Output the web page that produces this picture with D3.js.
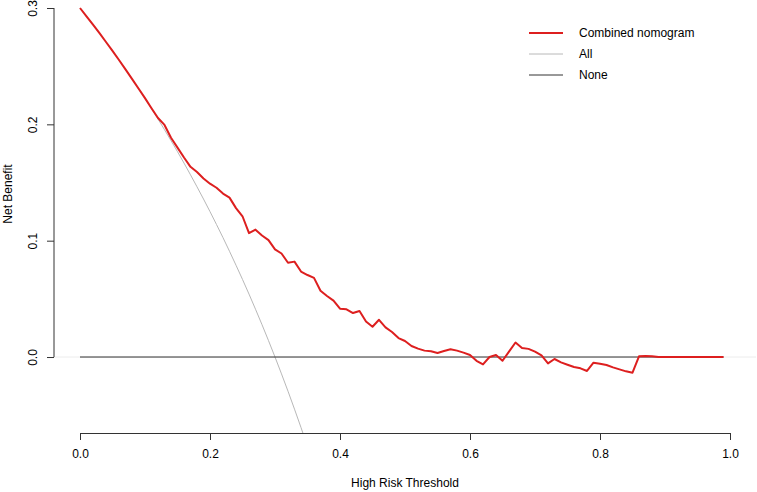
<!DOCTYPE html>
<html>
<head>
<meta charset="utf-8">
<script src="https://cdn.jsdelivr.net/npm/d3@7"></script>
<style>
  body { margin: 0; background: #fff; }
  svg text { font-family: "Liberation Sans", Arial, sans-serif; font-size: 12px; fill: #000; }
</style>
</head>
<body>
<div id="chart"></div>
<script>
// thresholds 0.00 .. 0.99 in steps of 0.01
const thresholds = d3.range(100).map((i) => i / 100);

// net benefit of the combined nomogram
const nomogram = [
  0.300, 0.2929, 0.2857, 0.2784, 0.2708, 0.2632, 0.2553, 0.2473, 0.2391, 0.2308,
  0.2225, 0.2138, 0.2055, 0.1995, 0.1885, 0.1800, 0.1715, 0.1635, 0.159, 0.1535,
  0.149, 0.1455, 0.1405, 0.137, 0.128, 0.121, 0.1065, 0.1095, 0.1045, 0.1005,
  0.0925, 0.089, 0.081, 0.082, 0.0735, 0.0705, 0.068, 0.057, 0.0525, 0.0485,
  0.0415, 0.041, 0.0378, 0.0395, 0.0305, 0.026, 0.032, 0.0255, 0.0215, 0.0163,
  0.0138, 0.0095, 0.0072, 0.0055, 0.0049, 0.0035, 0.0052, 0.0067, 0.0055, 0.0038,
  0.0018, -0.0032, -0.0063, 0.0000, 0.0017, -0.0032, 0.0046, 0.0125, 0.0078, 0.0070,
  0.0046, 0.0014, -0.0055, -0.0017, -0.0046, -0.0066, -0.0086, -0.0097, -0.0120, -0.0049,
  -0.0057, -0.0068, -0.0089, -0.0106, -0.0123, -0.0135, 0.0006, 0.0009, 0.0006, 0.0000,
  0.0000, 0.0000, 0.0000, 0.0000, 0.0000, 0.0000, 0.0000, 0.0000, 0.0000, 0.0000,
];

// "treat all" curve, thresholds 0.00 .. 0.35
const treatAll = [
  0.300, 0.2929, 0.2857, 0.2784, 0.2708, 0.2632, 0.2553, 0.2473, 0.2391, 0.2308,
  0.2222, 0.2135, 0.2045, 0.1954, 0.1860, 0.1765, 0.1667, 0.1566, 0.1463, 0.1358,
  0.1250, 0.1139, 0.1026, 0.0909, 0.0789, 0.0667, 0.0541, 0.0411, 0.0278, 0.0141,
  0.0000, -0.0145, -0.0294, -0.0448, -0.0606, -0.0769,
];

const xTicks = [0, 0.2, 0.4, 0.6, 0.8, 1.0];
const yTicks = [0, 0.1, 0.2, 0.3];

const legendItems = [
  { label: "Combined nomogram", color: "#dd1f1f", width: 2 },
  { label: "All", color: "#b8b8b8", width: 1 },
  { label: "None", color: "#333333", width: 1 },
];

const width = 757;
const height = 492;

const svg = d3.select("#chart").append("svg")
  .attr("width", width)
  .attr("height", height);

const x = d3.scaleLinear().domain([0, 1]).range([80, 730]);
const y = d3.scaleLinear().domain([-0.0653, 0.3]).range([433, 8]);

// plot region (R style, 4% padding on x)
const plotLeft = x(-0.04);
const plotRight = x(1.04);
const plotBottom = y.range()[0];

svg.append("clipPath").attr("id", "plot-clip")
  .append("rect")
  .attr("x", plotLeft)
  .attr("y", 0)
  .attr("width", plotRight - plotLeft)
  .attr("height", plotBottom);

const plot = svg.append("g").attr("clip-path", "url(#plot-clip)");

// faint zero reference across the full plot region
plot.append("line")
  .attr("x1", plotLeft).attr("x2", plotRight)
  .attr("y1", y(0)).attr("y2", y(0))
  .attr("stroke", "#ececec").attr("stroke-width", 1);

const line = d3.line().x((d) => x(d[0])).y((d) => y(d[1]));

plot.append("path")
  .datum(treatAll.map((v, i) => [thresholds[i], v]))
  .attr("d", line)
  .attr("fill", "none")
  .attr("stroke", "#b8b8b8")
  .attr("stroke-width", 1);

plot.append("path")
  .datum([[thresholds[0], 0], [thresholds[thresholds.length - 1], 0]])
  .attr("d", line)
  .attr("fill", "none")
  .attr("stroke", "#333333")
  .attr("stroke-width", 1);

plot.append("path")
  .datum(nomogram.map((v, i) => [thresholds[i], v]))
  .attr("d", line)
  .attr("fill", "none")
  .attr("stroke", "#dd1f1f")
  .attr("stroke-width", 2)
  .attr("stroke-linejoin", "round");

// axes
const xAxis = svg.append("g")
  .attr("transform", `translate(0,${plotBottom})`)
  .call(d3.axisBottom(x).tickValues(xTicks).tickFormat(d3.format(".1f")).tickSize(7).tickSizeOuter(0).tickPadding(9));
xAxis.select(".domain").attr("stroke", "#333");
xAxis.selectAll(".tick line").attr("stroke", "#333");
xAxis.selectAll("text").style("font-size", "12px").attr("fill", "#000");

const yAxis = svg.append("g")
  .attr("transform", `translate(${plotLeft},0)`)
  .call(d3.axisLeft(y).tickValues(yTicks).tickFormat(d3.format(".1f")).tickSize(7).tickSizeOuter(0));
yAxis.select(".domain").attr("d", `M0,${y(0.3)}V${y(0)}`).attr("stroke", "#333");
yAxis.selectAll(".tick line").attr("stroke", "#333");
yAxis.selectAll(".tick text")
  .attr("x", null).attr("dy", null)
  .attr("text-anchor", "middle")
  .attr("transform", "translate(-17,0) rotate(-90)")
  .style("font-size", "12px").attr("fill", "#000");

// axis titles
svg.append("text")
  .attr("x", 405).attr("y", 487)
  .attr("text-anchor", "middle")
  .text("High Risk Threshold");

svg.append("text")
  .attr("transform", "translate(12,194) rotate(-90)")
  .attr("text-anchor", "middle")
  .text("Net Benefit");

// legend
const legend = svg.append("g").attr("transform", "translate(529,33)");
legendItems.forEach((item, i) => {
  const row = legend.append("g").attr("transform", `translate(0,${i * 21})`);
  row.append("line")
    .attr("x1", 0).attr("x2", 34)
    .attr("stroke", item.color)
    .attr("stroke-width", item.width);
  row.append("text")
    .attr("x", 50).attr("dy", "0.35em")
    .text(item.label);
});
</script>
</body>
</html>
